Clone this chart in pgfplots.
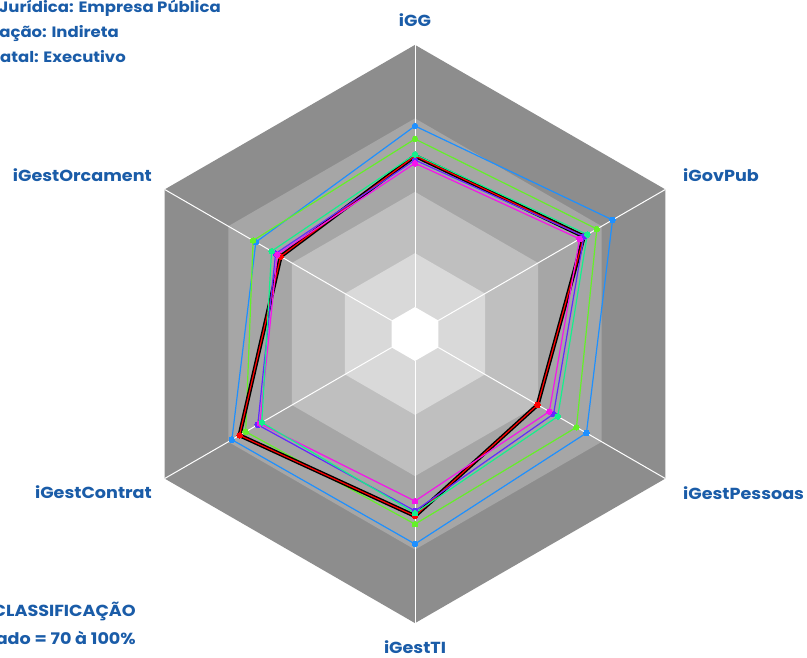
\documentclass[border=0pt]{standalone}
\usepackage{pgfplots}
\pgfplotsset{compat=1.18}
\usepackage{pgfplotstable}
\usepackage{fontspec}
\setmainfont{Poppins}[FakeStretch=1.1]

\definecolor{lbl}{RGB}{26,92,168}
\definecolor{bandA}{RGB}{141,141,141}
\definecolor{bandB}{RGB}{166,166,166}
\definecolor{bandC}{RGB}{191,191,191}
\definecolor{bandD}{RGB}{217,217,217}
\definecolor{sBlue}{RGB}{30,144,255}
\definecolor{sGreen}{RGB}{100,240,40}
\definecolor{sTeal}{RGB}{20,240,140}
\definecolor{sPurple}{RGB}{100,40,255}
\definecolor{sMagenta}{RGB}{245,20,235}
\definecolor{sRed}{RGB}{255,0,0}

% the six indicator directions (closed), used for the class bands
\pgfplotstableread{
ang lim
90 0
30 0
-30 0
-90 0
210 0
150 0
90 0
}\hexang

% scores in percent: iGG, iGovPub, iGestPessoas, iGestTI, iGestContrat, iGestOrcament
\pgfplotstableread{
ang v
90 66.9
30 75.1
-30 62.8
-90 67.7
210 68.3
150 57.0
90 66.9
}\serBlue

\pgfplotstableread{
ang v
90 61.6
30 67.7
-30 58.1
-90 59.6
210 61.8
150 58.3
90 61.6
}\serGreen

\pgfplotstableread{
ang v
90 55.3
30 63.2
-30 49.3
-90 55.1
210 54.2
150 49.6
90 55.3
}\serTeal

\pgfplotstableread{
ang v
90 53.0
30 61.6
-30 47.3
-90 54.2
210 56.1
150 47.7
90 53.0
}\serPurple

\pgfplotstableread{
ang v
90 51.7
30 59.6
-30 45.3
-90 50.2
210 55.1
150 46.9
90 51.7
}\serMagenta

\pgfplotstableread{
ang v
90 54.7
30 61.6
-30 39.8
-90 56.3
210 64.7
150 45.3
90 54.7
}\serRed

\begin{document}
\begin{tikzpicture}[declare function={rr(\v)=2.45*(\v+18);},
  lab/.style={font=\fontsize{16}{19}\selectfont\bfseries, text=lbl, inner sep=0pt},
  side/.style={font=\fontsize{15}{18}\selectfont\bfseries, text=lbl, inner sep=0pt, overlay},
  note/.style={font=\fontsize{16}{19}\selectfont\bfseries, text=lbl, inner sep=0pt, overlay}]
\begin{axis}[
  scale only axis, width=807pt, height=657pt,
  xmin=-415, xmax=392, ymin=-323, ymax=334,
  hide axis, clip=false,
  band/.style={data cs=polar, draw=none, mark=none},
  spoke/.style={data cs=polar, draw=white, line width=1pt, mark=none},
  ser/.style={data cs=polar, line width=1.2pt, mark=*, mark size=2.8pt,
              draw=#1, mark options={fill=#1, draw=#1, line width=0pt}},
]
% page frame
\addplot[draw=none, fill=white, mark=none] coordinates {(-415,-323) (392,-323) (392,334) (-415,334)} -- cycle;
% classification bands
\addplot[band, fill=bandA] table[x=ang, y expr={rr(100)}] {\hexang};
\addplot[band, fill=bandB] table[x=ang, y expr={rr(70)}] {\hexang};
\addplot[band, fill=bandC] table[x=ang, y expr={rr(40)}] {\hexang};
\addplot[band, fill=bandD] table[x=ang, y expr={rr(15)}] {\hexang};
\addplot[band, fill=white] table[x=ang, y expr={rr(-7)}] {\hexang};
% spokes
\addplot[spoke] coordinates {(90,27) (90,289.1)};
\addplot[spoke] coordinates {(30,27) (30,289.1)};
\addplot[spoke] coordinates {(-30,27) (-30,289.1)};
\addplot[spoke] coordinates {(-90,27) (-90,289.1)};
\addplot[spoke] coordinates {(210,27) (210,289.1)};
\addplot[spoke] coordinates {(150,27) (150,289.1)};
% series
\addplot[ser=sBlue] table[x=ang, y expr={rr(\thisrow{v})}] {\serBlue};
\addplot[ser=sGreen] table[x=ang, y expr={rr(\thisrow{v})}] {\serGreen};
\addplot[data cs=polar, draw=black, line width=4pt, mark=none, line join=round]
  table[x=ang, y expr={rr(\thisrow{v})}] {\serRed};
\addplot[ser=sRed] table[x=ang, y expr={rr(\thisrow{v})}] {\serRed};
\addplot[ser=sPurple] table[x=ang, y expr={rr(\thisrow{v})}] {\serPurple};
\addplot[ser=sMagenta] table[x=ang, y expr={rr(\thisrow{v})}] {\serMagenta};
\addplot[ser=sTeal] table[x=ang, y expr={rr(\thisrow{v})}] {\serTeal};

% indicator names
\node[lab, anchor=center] at (axis cs:0,314) {iGG};
\node[lab, anchor=west] at (axis cs:268,159) {iGovPub};
\node[lab, anchor=west] at (axis cs:268,-159) {iGestPessoas};
\node[lab, anchor=center] at (axis cs:0,-313) {iGestTI};
\node[lab, anchor=east] at (axis cs:-263,-158) {iGestContrat};
\node[lab, anchor=east] at (axis cs:-263,159) {iGestOrcament};

% organisation profile
\node[side, anchor=base east] at (axis cs:-194,321) {Natureza Jurídica: Empresa Pública};
\node[side, anchor=base east] at (axis cs:-296,296) {Tipo de Administração: Indireta};
\node[side, anchor=base east] at (axis cs:-289,271) {Poder Estatal: Executivo};

% classification note
\node[note, anchor=base east] at (axis cs:-279,-282) {FAIXA DE CLASSIFICAÇÃO};
\node[note, anchor=base east] at (axis cs:-279,-310) {Aprimorado = 70 à 100\%};
\end{axis}
\end{tikzpicture}
\end{document}
